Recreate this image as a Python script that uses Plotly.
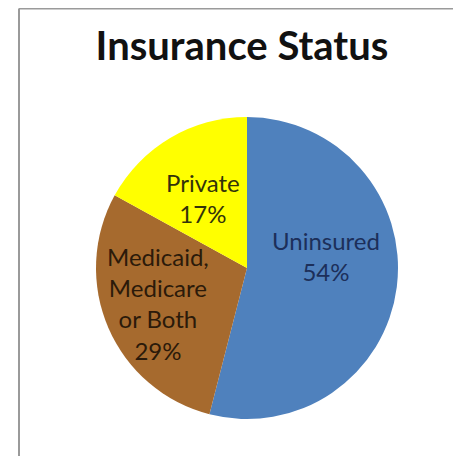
import plotly.graph_objects as go

labels = ["Uninsured", "Medicaid,<br>Medicare<br>or Both", "Private"]
values = [54, 29, 17]
colors = ["#4F81BD", "#A66A2E", "#FFFF00"]
text_colors = ["#1C2F5A", "#2B1A0A", "#33330A"]
# label block centres (page pixels) for each slice's text
label_px = [(326, 256), (158, 303), (203, 198)]

OFF = 8  # default page margin of the html body
W, H = 461 - OFF, 456 - OFF
cx, cy, r = 247 - OFF, 268 - OFF, 151

fig = go.Figure(go.Pie(
    labels=labels,
    values=values,
    sort=False,
    direction="clockwise",
    rotation=0,
    marker=dict(colors=colors, line=dict(color="#FFFFFF", width=0)),
    textinfo="none",
    hoverinfo="label+percent",
    domain=dict(x=[(cx - r) / W, (cx + r) / W], y=[1 - (cy + r) / H, 1 - (cy - r) / H]),
    showlegend=False,
))

total = sum(values)
annotations = []
for lab, val, col, (px, py) in zip(labels, values, text_colors, label_px):
    annotations.append(dict(
        text=f"{lab}<br>{round(100 * val / total)}%",
        xref="paper", yref="paper",
        x=(px - OFF) / W, y=1 - (py - OFF) / H,
        xanchor="center", yanchor="middle",
        showarrow=False, align="center",
        font=dict(family="Lato", size=24, color=col),
    ))

fig.update_layout(
    width=W, height=H,
    margin=dict(l=0, r=0, t=0, b=0),
    paper_bgcolor="white",
    title=dict(text="<b>Insurance Status</b>", x=(242 - OFF) / W, xanchor="center",
               y=1 - (46 - OFF) / H, yanchor="middle",
               font=dict(family="Lato", size=40, color="#111111")),
    annotations=annotations,
    shapes=[
        dict(type="line", xref="paper", yref="paper", x0=(19 - OFF) / W, x1=1,
             y0=1 - 0.5 / H, y1=1 - 0.5 / H,
             line=dict(color="#9A9A9A", width=2)),
        dict(type="line", xref="paper", yref="paper", x0=(19 - OFF) / W, x1=(19 - OFF) / W,
             y0=0, y1=1 - 0.5 / H,
             line=dict(color="#9A9A9A", width=2)),
    ],
)

fig.write_html("out.html")
